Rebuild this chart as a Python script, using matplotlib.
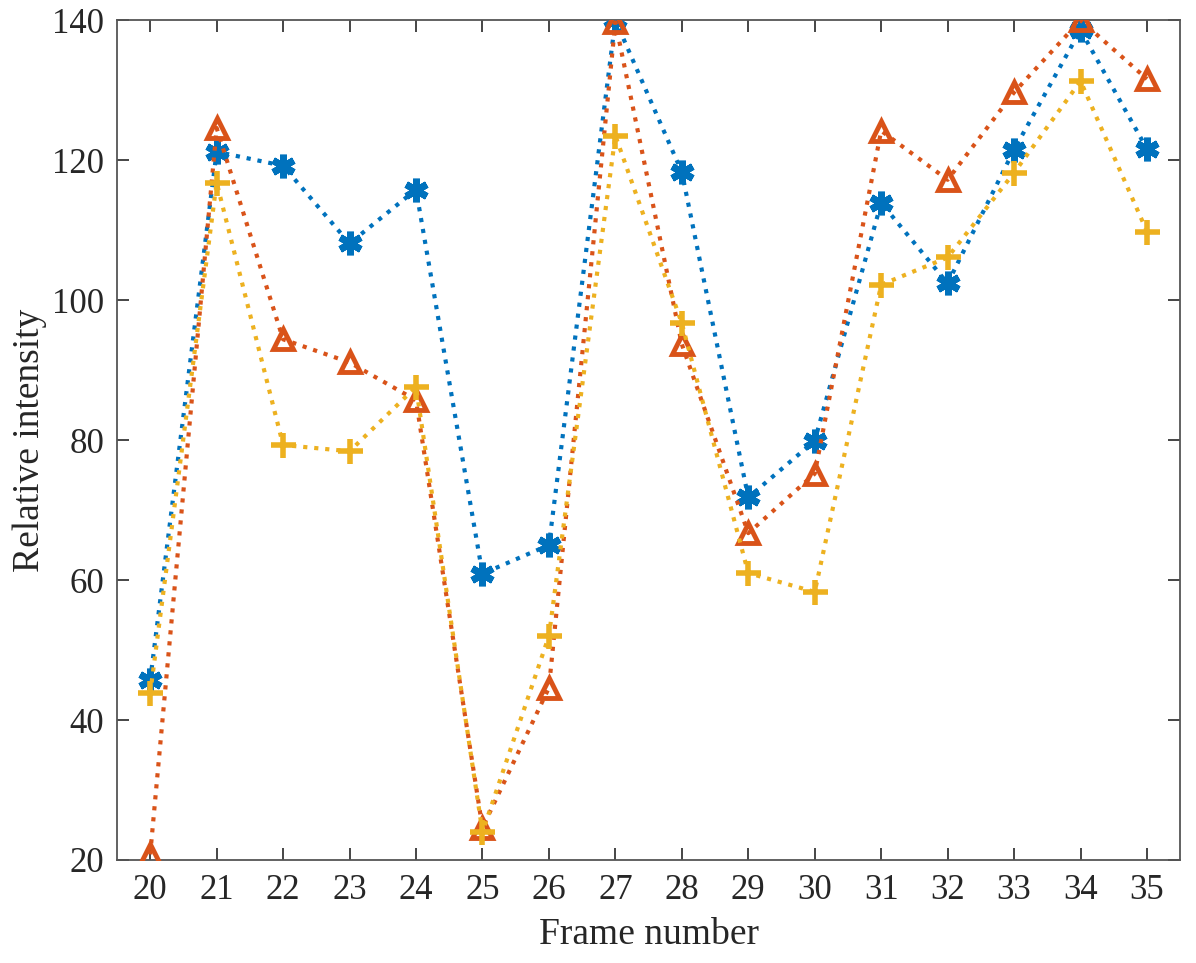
import matplotlib.pyplot as plt
import matplotlib as mpl

mpl.rcParams['font.family'] = ['Liberation Serif', 'DejaVu Serif']

frames = list(range(20, 36))
blue_vals = [45.7, 121.2, 119.2, 108.1, 115.8, 60.9, 65.0, 140.0, 118.3, 71.8, 79.9, 113.9, 102.4, 121.5, 138.6, 121.6]
red_vals = [20.8, 124.6, 94.4, 91.1, 85.7, 24.6, 44.6, 139.7, 93.7, 66.7, 75.2, 124.2, 117.2, 129.7, 140.0, 131.6]
yellow_vals = [43.8, 116.8, 79.3, 78.4, 87.6, 24.0, 52.0, 123.5, 96.7, 61.0, 58.3, 102.2, 106.1, 118.2, 131.3, 109.8]

fig = plt.figure(figsize=(11.96, 9.63), dpi=100)
ax = fig.add_axes([0.0978, 0.107, 0.889, 0.872])

ax.plot(frames, blue_vals, linestyle=':', linewidth=3, color='#0072BD',
        marker=(6, 2, 0), markersize=17, markeredgewidth=5, zorder=3)
ax.plot(frames, red_vals, linestyle=':', linewidth=3, color='#D95319',
        marker='^', markersize=15, markerfacecolor='none', markeredgewidth=3.5, zorder=3)
ax.plot(frames, yellow_vals, linestyle=':', linewidth=3, color='#EDB120',
        marker='+', markersize=18, markeredgewidth=4, zorder=3)

ax.set_xlim(19.5, 35.5)
ax.set_ylim(20, 140)
ax.set_xticks(frames)
ax.set_yticks([20, 40, 60, 80, 100, 120, 140])
ax.tick_params(direction='in', top=True, right=True, labelsize=25, length=8.5, width=1.2,
               colors='#262626', labelcolor='#262626')
ax.tick_params(axis='x', pad=10)
ax.tick_params(axis='y', pad=9)
for sp in ax.spines.values():
    sp.set_linewidth(1.3)
    sp.set_color('#555555')
ax.set_xlabel('Frame number', fontsize=27, color='#262626', labelpad=8)
ax.set_ylabel('Relative intensity', fontsize=27, color='#262626')
ax.yaxis.set_label_coords(-0.066, 0.5)

fig.savefig('out.png', dpi=100)
